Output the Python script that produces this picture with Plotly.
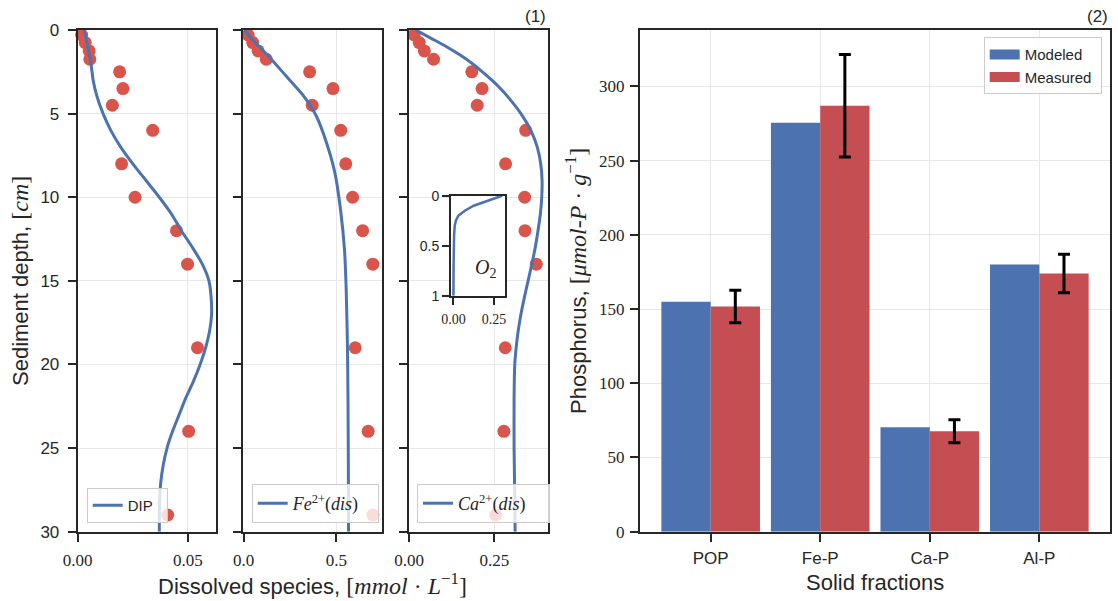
import plotly.graph_objects as go

W, H = 1118, 601

# ---------------- data ----------------
meas_depth = [0.3, 0.75, 1.25, 1.75, 2.5, 3.5, 4.5, 6, 8, 10, 12, 14, 19, 24, 29]
dip_meas = [0.0018, 0.0034, 0.0052, 0.0055, 0.019, 0.0205, 0.0157, 0.034, 0.0199, 0.026,
            0.0448, 0.0498, 0.0543, 0.0503, 0.0408]
fe_meas = [0.024, 0.049, 0.078, 0.122, 0.356, 0.482, 0.37, 0.524, 0.551, 0.588,
           0.642, 0.697, 0.602, 0.672, 0.697]
ca_meas = [0.015, 0.03, 0.045, 0.072, 0.184, 0.214, 0.2, 0.342, 0.283, 0.339,
           0.34, 0.373, 0.282, 0.278, 0.254]

dip_model_depth = [0, 1, 2, 3, 4, 5, 6, 7, 8, 9, 10, 11, 12, 13, 14, 15, 16, 17, 18, 19,
                   20, 21, 22, 23, 24, 25, 26, 27, 28, 29, 30]
dip_model = [0.003, 0.0045, 0.006, 0.007, 0.0088, 0.0115, 0.015, 0.0195, 0.025, 0.031,
             0.037, 0.0425, 0.047, 0.052, 0.0565, 0.0595, 0.0605, 0.0607, 0.0598, 0.058,
             0.0555, 0.0525, 0.049, 0.046, 0.043, 0.0405, 0.0388, 0.0377, 0.0372, 0.037, 0.037]

fe_model_depth = [0, 0.57, 1.6, 2.74, 3.88, 5.14, 6.74, 8.57, 10.85, 13.1, 15.4, 18.8,
                  22, 26, 30]
fe_model = [0.005, 0.046, 0.137, 0.228, 0.319, 0.392, 0.447, 0.493, 0.524, 0.544, 0.553,
            0.56, 0.563, 0.565, 0.566]

ca_model_depth = [0, 0.5, 1, 1.5, 2, 2.5, 3, 3.5, 4, 5, 6, 7, 8, 9, 10, 11, 12, 13, 14, 15,
                  16, 17, 18, 19, 20, 22, 25, 28, 30]
ca_model = [0.02, 0.065, 0.11, 0.15, 0.185, 0.215, 0.243, 0.268, 0.29, 0.328, 0.357, 0.376,
            0.386, 0.39, 0.389, 0.385, 0.378, 0.37, 0.36, 0.349, 0.338, 0.328, 0.32, 0.314,
            0.31, 0.308, 0.308, 0.31, 0.311]

o2_depth = [0, 0.05, 0.1, 0.15, 0.2, 0.25, 0.3, 0.4, 0.5, 0.7, 1.0]
o2_model = [0.30, 0.21, 0.125, 0.07, 0.03, 0.015, 0.008, 0.004, 0.002, 0.001, 0.0]

fractions = ["POP", "Fe-P", "Ca-P", "Al-P"]
modeled = [155, 275.5, 70.4, 180]
measured = [151.7, 287, 67.7, 174]
measured_err = [11, 34.5, 7.7, 13]

depth_ticks = [0, 5, 10, 15, 20, 25, 30]
bar_ticks = [0, 50, 100, 150, 200, 250, 300]

# ---------------- styles ----------------
BLUE = "#4C72B0"
RED_BAR = "#C44E52"
RED_DOT = "#D9544A"
DARK = "#262626"
GRID = "#E8E8E8"
SANS = "Liberation Sans"
SERIF = "Liberation Serif"

INSET_X = [-0.015, 0.32]
INSET_Y = [0, 1]


def px_x(p):
    return p / W


def px_y(p):
    return 1 - p / H


def m(s, size=None):
    st = f"font-family:{SERIF}"
    if size:
        st += f";font-size:{size}px"
    return f"<span style='{st}'>{s}</span>"


fig = go.Figure()

panels = [
    ("x", "y", dip_meas, dip_model_depth, dip_model, "DIP&nbsp;&nbsp;", "legend"),
    ("x2", "y2", fe_meas, fe_model_depth, fe_model,
     "<i>Fe</i><sup>2+</sup>(<i>dis</i>)&nbsp;&nbsp;&nbsp;", "legend2"),
    ("x3", "y3", ca_meas, ca_model_depth, ca_model,
     "<i>Ca</i><sup>2+</sup>(<i>dis</i>)&nbsp;&nbsp;&nbsp;&nbsp;", "legend3"),
]
for xa, ya, meas, mdep, mod, name, leg in panels:
    fig.add_trace(go.Scatter(x=meas, y=meas_depth, mode="markers", xaxis=xa, yaxis=ya,
                             marker=dict(color=RED_DOT, size=13, line=dict(width=0)),
                             showlegend=False, cliponaxis=False))
    fig.add_trace(go.Scatter(x=mod, y=mdep, mode="lines", xaxis=xa, yaxis=ya,
                             line=dict(color=BLUE, width=3, shape="spline", smoothing=0.6),
                             name=name, legend=leg, showlegend=True))

# inset O2: white background then the profile
fig.add_trace(go.Scatter(x=[INSET_X[0], INSET_X[1], INSET_X[1], INSET_X[0]],
                         y=[INSET_Y[0], INSET_Y[0], INSET_Y[1], INSET_Y[1]],
                         mode="lines", fill="toself", fillcolor="white",
                         line=dict(width=0, color="white"), xaxis="x4", yaxis="y4",
                         showlegend=False, hoverinfo="skip"))
fig.add_trace(go.Scatter(x=o2_model, y=o2_depth, mode="lines", xaxis="x4", yaxis="y4",
                         line=dict(color=BLUE, width=2.5), showlegend=False))

# bars
fig.add_trace(go.Bar(x=fractions, y=modeled, name="Modeled",
                     marker=dict(color=BLUE, line=dict(width=0)),
                     xaxis="x5", yaxis="y5", showlegend=False))
fig.add_trace(go.Bar(x=fractions, y=measured, name="Measured",
                     marker=dict(color=RED_BAR, line=dict(width=0)),
                     xaxis="x5", yaxis="y5", showlegend=False,
                     error_y=dict(type="data", array=measured_err, color="black",
                                  thickness=3, width=6)))
# legend patches for bars
for nm, col in [("Modeled", BLUE), ("Measured", RED_BAR)]:
    fig.add_trace(go.Scatter(x=[None], y=[None], mode="lines", name=nm + "&nbsp;",
                             line=dict(color=col, width=12), xaxis="x5", yaxis="y5",
                             legend="legend4", showlegend=True))

axis_common = dict(showline=True, linecolor=DARK, linewidth=2, mirror=True,
                   ticks="outside", ticklen=8, tickwidth=1.5, tickcolor=DARK,
                   showgrid=True, gridcolor=GRID, gridwidth=1, zeroline=False,
                   automargin=False)

ytop, ybot = px_y(30), px_y(531.7)
doms = [(77.7, 216), (243.3, 381.7), (409, 547.7)]
xranges = [[0, 0.0627], [-0.002, 0.745], [0, 0.4065]]
xticks = [([0, 0.05], "0.00 0.05"), ([0, 0.5], "0.0 0.5"), ([0, 0.25], "0.00 0.25")]

layout = dict(width=W, height=H, margin=dict(l=0, r=0, t=0, b=0, autoexpand=False),
              plot_bgcolor="white", paper_bgcolor="white", barmode="group",
              bargap=0.1, bargroupgap=0)

for i, ((a, b), xr, (tv, tt)) in enumerate(zip(doms, xranges, xticks)):
    sfx = "" if i == 0 else str(i + 1)
    layout["xaxis" + sfx] = dict(axis_common, domain=[px_x(a), px_x(b)], range=xr,
                                 anchor="y" + sfx, tickvals=tv, ticktext=tt.split(),
                                 ticklabelstandoff=4,
                                 tickfont=dict(family=SERIF, size=17, color=DARK))
    layout["yaxis" + sfx] = dict(axis_common, domain=[ybot, ytop], range=[30, 0],
                                 anchor="x" + sfx, tickvals=depth_ticks,
                                 showticklabels=(i == 0), ticklabelstandoff=5,
                                 tickfont=dict(family=SANS, size=17, color=DARK))

# inset axes
layout["xaxis4"] = dict(axis_common, domain=[px_x(451), px_x(505.3)], range=INSET_X,
                        anchor="y4", tickvals=[0, 0.25], ticktext=["0.00", "0.25"],
                        showgrid=False, ticklen=7, ticklabelstandoff=2,
                        tickfont=dict(family=SERIF, size=14, color=DARK))
layout["yaxis4"] = dict(axis_common, domain=[px_y(295.7), px_y(195.7)],
                        range=[INSET_Y[1], INSET_Y[0]],
                        anchor="x4", tickvals=[0, 0.5, 1], ticktext=["0", "0.5", "1"],
                        showgrid=False, ticklen=7,
                        tickfont=dict(family=SANS, size=14, color=DARK))

# bar axes
layout["xaxis5"] = dict(axis_common, domain=[px_x(640), px_x(1110)], range=[-0.645, 3.645],
                        anchor="y5", ticklabelstandoff=2,
                        tickfont=dict(family=SANS, size=17, color=DARK))
layout["yaxis5"] = dict(axis_common, domain=[ybot, ytop], range=[0, 338], anchor="x5",
                        tickvals=bar_ticks, ticklabelstandoff=2,
                        tickfont=dict(family=SERIF, size=17, color=DARK))

leg_common = dict(bgcolor="rgba(255,255,255,0.8)", bordercolor="#CCCCCC", borderwidth=1,
                  xanchor="left", yanchor="bottom", itemwidth=30, tracegroupgap=0)
layout["legend"] = dict(leg_common, x=px_x(86.7), y=px_y(523),
                        font=dict(family=SANS, size=15, color=DARK))
layout["legend2"] = dict(leg_common, x=px_x(251.7), y=px_y(523),
                         font=dict(family=SERIF, size=18, color=DARK))
layout["legend3"] = dict(leg_common, x=px_x(417), y=px_y(523),
                         font=dict(family=SERIF, size=18, color=DARK))
layout["legend4"] = dict(leg_common, x=px_x(1101.7), y=px_y(37.3), xanchor="right",
                         yanchor="top", traceorder="normal",
                         font=dict(family=SANS, size=15, color=DARK))

fig.update_layout(**layout)

title_font = dict(family=SANS, size=22, color=DARK)
ann = [
    dict(text="Sediment depth, " + m("[<i>cm</i>]", 24), x=px_x(20), y=px_y(281),
         textangle=-90),
    dict(text="Dissolved species, " + m("[<i>mmol</i> · <i>L</i><sup>−1</sup>]", 24),
         x=px_x(312.7), y=px_y(584)),
    dict(text="Phosphorus, " + m("[<i>μmol</i>-<i>P</i> · <i>g</i><sup>−1</sup>]", 24),
         x=px_x(576), y=px_y(281), textangle=-90),
    dict(text="Solid fractions", x=px_x(875), y=px_y(582)),
]
for a in ann:
    fig.add_annotation(xref="paper", yref="paper", showarrow=False, font=title_font,
                       xanchor="center", yanchor="middle", **a)

fig.add_annotation(text="<i>O</i><sub>2</sub>", xref="paper", yref="paper",
                   x=px_x(485), y=px_y(268), showarrow=False,
                   font=dict(family=SERIF, size=20, color=DARK))
for txt, xp in [("(1)", 548), ("(2)", 1110)]:
    fig.add_annotation(text=txt, xref="paper", yref="paper", x=px_x(xp), y=px_y(17),
                       xanchor="right", yanchor="middle", showarrow=False,
                       font=dict(family=SANS, size=17, color=DARK))

fig.write_html("out.html")
